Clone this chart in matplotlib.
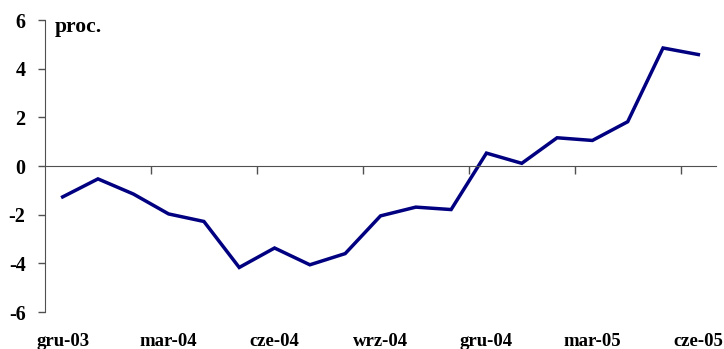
import matplotlib
matplotlib.use("Agg")
import matplotlib.pyplot as plt
import matplotlib.transforms as mtransforms

# miesieczne dane gru-03 .. cze-05
months = ["gru-03", "sty-04", "lut-04", "mar-04", "kwi-04", "maj-04", "cze-04",
          "lip-04", "sie-04", "wrz-04", "paz-04", "lis-04", "gru-04", "sty-05",
          "lut-05", "mar-05", "kwi-05", "maj-05", "cze-05"]
values = [-1.27, -0.53, -1.15, -1.97, -2.28, -4.17, -3.37, -4.06, -3.6, -2.05,
          -1.69, -1.79, 0.53, 0.11, 1.16, 1.05, 1.82, 4.85, 4.58]
y_ticks = [-6, -4, -2, 0, 2, 4, 6]

plt.rcParams['font.family'] = ['Liberation Serif', 'DejaVu Serif']
plt.rcParams['font.weight'] = 'bold'

fig = plt.figure(figsize=(7.24, 3.49), dpi=100)
ax = fig.add_axes([45 / 724, 37 / 349, 671 / 724, 292 / 349])

x = list(range(len(values)))
ax.plot(x, values, color="#000080", linewidth=2.5, solid_joinstyle="miter")

ax.set_xlim(-0.5, len(values) - 0.5)
ax.set_ylim(-6, 6)

axis_col = "#505050"
for side in ["top", "right"]:
    ax.spines[side].set_visible(False)
ax.spines["left"].set_color(axis_col)
ax.spines["bottom"].set_position(("data", 0))
ax.spines["bottom"].set_color(axis_col)

ax.set_yticks(y_ticks)
ax.set_yticklabels([str(v) for v in y_ticks], fontsize=14.5, fontweight="bold")
ax.tick_params(axis="y", length=5, width=1, color=axis_col, pad=9)

ax.set_xticks([i - 0.5 for i in range(3, len(values) + 1, 3)])
ax.set_xticklabels([])
ax.tick_params(axis="x", length=6, width=1, color=axis_col, direction="out")

trans = mtransforms.blended_transform_factory(ax.transData, ax.transAxes)
for i in range(0, len(months), 3):
    ax.text(i, -0.1, months[i], transform=trans, ha="center", va="center",
            fontsize=13.5, fontweight="bold")

ax.text(0.014, 0.975, "proc.", transform=ax.transAxes, ha="left", va="center",
        fontsize=15.5, fontweight="bold")

fig.savefig("out.png", dpi=100)
